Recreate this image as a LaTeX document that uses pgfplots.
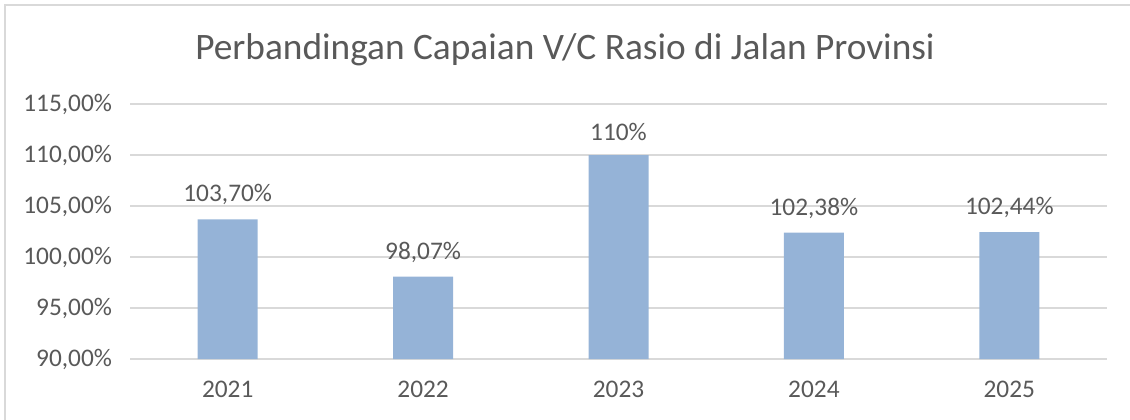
\documentclass[border=0pt]{standalone}
\usepackage{pgfplots}
\pgfplotsset{compat=1.18}
\usepackage{fontspec}
\setmainfont{Carlito}
\definecolor{txt}{HTML}{595959}
\definecolor{gridc}{HTML}{D9D9D9}
\definecolor{barc}{HTML}{95B3D7}
\begin{document}
\begin{tikzpicture}
\useasboundingbox (0pt,0pt) rectangle (847.5pt,-314.25pt);
\draw[gridc, line width=1.2pt] (3.75pt,-320pt) -- (3.75pt,-3.75pt) -- (860pt,-3.75pt);
\node[txt, font=\fontsize{28}{34}\selectfont] at (423.75pt,-37.5pt) {Perbandingan Capaian V/C Rasio di Jalan Provinsi};
\begin{axis}[
  at={(97.5pt,-269.25pt)}, anchor=south west,
  scale only axis, width=732.75pt, height=191.25pt,
  xmin=-0.5, xmax=4.5, ymin=90, ymax=115,
  xtick={0,1,2,3,4}, xticklabels={2021,2022,2023,2024,2025},
  ytick={90,95,100,105,110,115},
  yticklabels={{90,00\%},{95,00\%},{100,00\%},{105,00\%},{110,00\%},{115,00\%}},
  axis line style={draw=none},
  major tick length=0pt,
  ymajorgrids, grid style={gridc, line width=1.1pt},
  tick label style={txt, font=\fontsize{19}{23}\selectfont},
  yticklabel style={xshift=-10pt},
  xticklabel style={yshift=-13pt},
  clip=false,
]
\addplot[ybar, bar width=0.307, fill=barc, draw=none,
  nodes near coords, point meta=explicit symbolic,
  every node near coord/.append style={txt, font=\fontsize{19}{23}\selectfont, yshift=7pt}]
  coordinates {(0,103.70) [103,70\%] (1,98.07) [98,07\%] (2,110) [110\%] (3,102.38) [102,38\%] (4,102.44) [102,44\%]};
\end{axis}
\end{tikzpicture}
\end{document}
